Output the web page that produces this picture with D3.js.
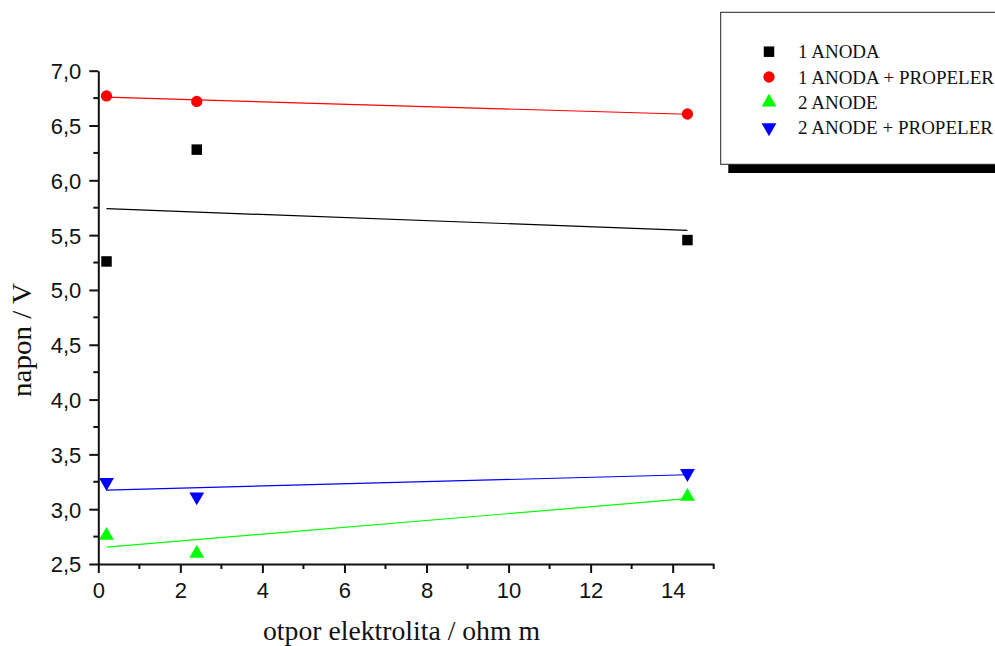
<!DOCTYPE html>
<html>
<head>
<meta charset="utf-8">
<script src="https://cdn.jsdelivr.net/npm/d3@7"></script>
<style>
  body { margin: 0; background: #fff; }
  svg { display: block; }
  .tick-label { font-family: "Liberation Sans", Arial, sans-serif; font-size: 22px; fill: #111; }
  .axis-title { font-family: "Liberation Serif", "Times New Roman", serif; font-size: 27px; fill: #111; }
  .legend-text { font-family: "Liberation Serif", "Times New Roman", serif; font-size: 19px; fill: #111; }
</style>
</head>
<body>
<div id="chart"></div>
<script>
// data
const resistance = [0.2, 2.4, 14.36];
const anoda1 = [5.26, 6.28, 5.455];
const anoda1Propeler = [6.77, 6.72, 6.605];
const anode2 = [2.76, 2.597, 3.115];
const anode2Propeler = [3.245, 3.113, 3.327];

const seriesNames = ["1 ANODA", "1 ANODA + PROPELER", "2 ANODE", "2 ANODE + PROPELER"];
const seriesColors = ["#000000", "#ff0000", "#00ff00", "#0000ff"];
const seriesSymbols = ["square", "circle", "triangleUp", "triangleDown"];

const xTicks = [0, 2, 4, 6, 8, 10, 12, 14];
const yTicks = [2.5, 3.0, 3.5, 4.0, 4.5, 5.0, 5.5, 6.0, 6.5, 7.0];

const W = 995, H = 646;
const plot = { left: 98.3, right: 713.7, top: 70.7, bottom: 564 };

const x = d3.scaleLinear().domain([0, 15]).range([plot.left, plot.right]);
const y = d3.scaleLinear().domain([2.5, 7.0]).range([plot.bottom, plot.top]);

const svg = d3.select("#chart").append("svg")
    .attr("width", W)
    .attr("height", H);

// simple least squares fit, as in the original plot
function linearFit(xs, ys) {
    const mx = d3.mean(xs), my = d3.mean(ys);
    let sxy = 0, sxx = 0;
    xs.forEach((v, i) => { sxy += (v - mx) * (ys[i] - my); sxx += (v - mx) * (v - mx); });
    const b = sxy / sxx;
    return v => my + b * (v - mx);
}

function symbolPath(kind) {
    const s = {
        square: d3.symbol(d3.symbolSquare, 110),
        circle: d3.symbol(d3.symbolCircle, 100),
        triangleUp: d3.symbol(d3.symbolTriangle, 95),
        triangleDown: d3.symbol(d3.symbolTriangle, 95)
    };
    return s[kind]();
}

const series = [anoda1, anoda1Propeler, anode2, anode2Propeler].map((vals, i) => ({
    name: seriesNames[i],
    color: seriesColors[i],
    symbol: seriesSymbols[i],
    points: resistance.map((r, j) => ({ x: r, y: vals[j] })),
    fit: linearFit(resistance, vals)
}));

// fit lines
const xMin = d3.min(resistance), xMax = d3.max(resistance);
svg.append("g").selectAll("line")
    .data(series)
    .join("line")
    .attr("x1", x(xMin))
    .attr("x2", x(xMax))
    .attr("y1", d => y(d.fit(xMin)))
    .attr("y2", d => y(d.fit(xMax)))
    .attr("stroke", d => d.color)
    .attr("stroke-width", 1.2);

// markers
series.forEach(s => {
    svg.append("g").selectAll("path")
        .data(s.points)
        .join("path")
        .attr("d", symbolPath(s.symbol))
        .attr("transform", d => `translate(${x(d.x)},${y(d.y)})` + (s.symbol === "triangleDown" ? " rotate(180)" : ""))
        .attr("fill", s.color);
});

// axes
const xAxis = svg.append("g").attr("transform", `translate(0,${plot.bottom})`);
xAxis.call(d3.axisBottom(x).tickValues(xTicks).tickSize(9).tickSizeOuter(0).tickFormat(d3.format("d")));
xAxis.append("g").selectAll("line")
    .data(d3.range(1, 16, 2))
    .join("line")
    .attr("x1", d => x(d)).attr("x2", d => x(d))
    .attr("y1", 0).attr("y2", 5)
    .attr("stroke", "#111").attr("stroke-width", 2);

const yAxis = svg.append("g").attr("transform", `translate(${plot.left},0)`);
yAxis.call(d3.axisLeft(y).tickValues(yTicks).tickSize(9).tickSizeOuter(0)
    .tickFormat(d => d3.format(".1f")(d).replace(".", ",")));
yAxis.append("g").selectAll("line")
    .data(d3.range(2.75, 7.0, 0.5))
    .join("line")
    .attr("x1", 0).attr("x2", -5)
    .attr("y1", d => y(d)).attr("y2", d => y(d))
    .attr("stroke", "#111").attr("stroke-width", 2);

[xAxis, yAxis].forEach(a => {
    a.selectAll(".domain").attr("stroke", "#111").attr("stroke-width", 2);
    a.selectAll(".tick line").attr("stroke", "#111").attr("stroke-width", 2);
    a.selectAll(".tick text").attr("class", "tick-label").attr("fill", null);
});
xAxis.selectAll(".tick text").attr("dy", null).attr("y", 34);
yAxis.selectAll(".tick text").attr("x", -17).attr("dy", "0.36em");

// axis titles
svg.append("text")
    .attr("class", "axis-title")
    .attr("x", 263)
    .attr("y", 640)
    .attr("textLength", 277)
    .attr("lengthAdjust", "spacingAndGlyphs")
    .text("otpor elektrolita / ohm m");

svg.append("text")
    .attr("class", "axis-title")
    .attr("transform", `translate(30.5,397) rotate(-90)`)
    .attr("textLength", 114)
    .attr("lengthAdjust", "spacingAndGlyphs")
    .text("napon / V");

// legend with drop shadow
const legend = svg.append("g");
legend.append("rect")
    .attr("x", 728.3).attr("y", 20).attr("width", 300).attr("height", 153)
    .attr("fill", "#000");
legend.append("rect")
    .attr("x", 720.7).attr("y", 12.3).attr("width", 300).attr("height", 152)
    .attr("fill", "#fff").attr("stroke", "#222").attr("stroke-width", 1);

const rows = legend.selectAll("g.row")
    .data(series)
    .join("g")
    .attr("class", "row")
    .attr("transform", (d, i) => `translate(769,${51.7 + i * 25.3})`);
rows.append("path")
    .attr("d", d => symbolPath(d.symbol))
    .attr("transform", d => d.symbol === "triangleDown" ? "rotate(180)" : null)
    .attr("fill", d => d.color);
rows.append("text")
    .attr("class", "legend-text")
    .attr("x", 29)
    .attr("dy", "0.35em")
    .text(d => d.name);
</script>
</body>
</html>
